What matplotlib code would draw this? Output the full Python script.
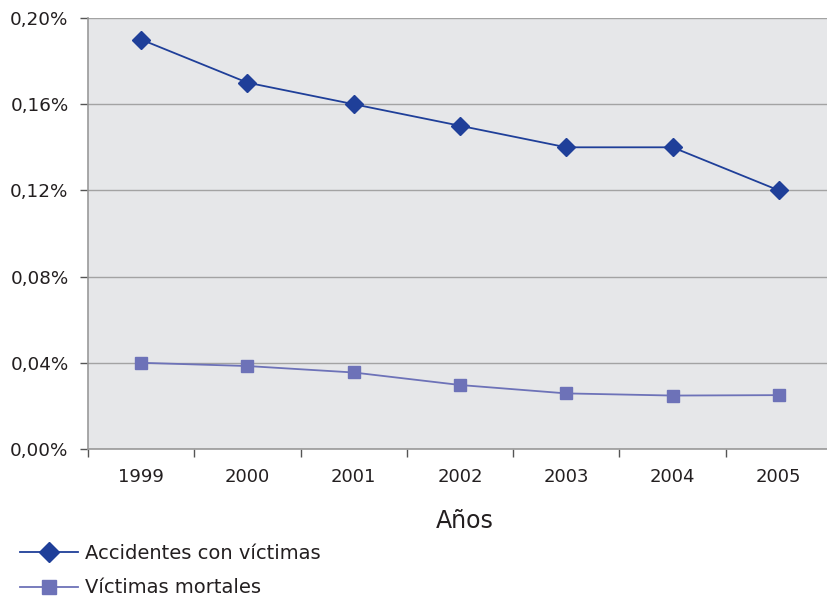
import matplotlib.pyplot as plt
from matplotlib.ticker import FuncFormatter

years = ['1999', '2000', '2001', '2002', '2003', '2004', '2005']
accidentes = [0.19, 0.17, 0.16, 0.15, 0.14, 0.14, 0.12]
mortales = [0.040, 0.0385, 0.0355, 0.0297, 0.0258, 0.0248, 0.0250]
y_ticks = [0.0, 0.04, 0.08, 0.12, 0.16, 0.20]

plt.rcParams['font.family'] = ['DejaVu Sans']
text_color = '#231f20'

fig = plt.figure(figsize=(8.27, 5.99), dpi=100)
ax = fig.add_axes([88 / 827, 150 / 599, 744 / 827, 431 / 599])
ax.set_facecolor('#e6e7e9')

x = list(range(len(years)))
ax.plot(x, accidentes, color='#1f3f99', lw=1.3, marker='D', ms=9,
        label='Accidentes con víctimas', zorder=3)
ax.plot(x, mortales, color='#6d72b8', lw=1.3, marker='s', ms=9,
        label='Víctimas mortales', zorder=3)

ax.set_xlim(-0.5, len(years) - 0.5)
ax.set_ylim(0, 0.20)
ax.set_yticks(y_ticks)
ax.yaxis.set_major_formatter(FuncFormatter(lambda v, _: f'{v:.2f}%'.replace('.', ',')))
ax.grid(axis='y', color='#a3a3a3', lw=1)
ax.set_axisbelow(True)

# category boundaries get the tick marks, labels sit between them
ax.set_xticks([i - 0.5 for i in range(len(years) + 1)])
ax.set_xticklabels([])
ax.set_xticks(x, minor=True)
ax.set_xticklabels(years, minor=True)
ax.tick_params(axis='x', which='major', length=6, color='#555555', width=1)
ax.tick_params(axis='x', which='minor', length=0, pad=14, labelsize=13, labelcolor=text_color)
ax.tick_params(axis='y', length=6, color='#555555', width=1, pad=8, labelsize=13.2,
               labelcolor=text_color)

for side in ('top', 'right'):
    ax.spines[side].set_visible(False)
for side in ('left', 'bottom'):
    ax.spines[side].set_color('#9a9a9a')
    ax.spines[side].set_linewidth(1.2)

fig.text(465 / 827, 1 - 521 / 599, 'Años', ha='center', va='center',
         fontsize=17, color=text_color)

fig.legend(loc='upper left', bbox_to_anchor=(12 / 827, 1 - 536 / 599), frameon=False,
           handlelength=3.0, handletextpad=0.35, labelspacing=0.8, fontsize=14,
           labelcolor=text_color, borderaxespad=0, markerscale=1.1)

fig.savefig('out.png', dpi=100)
